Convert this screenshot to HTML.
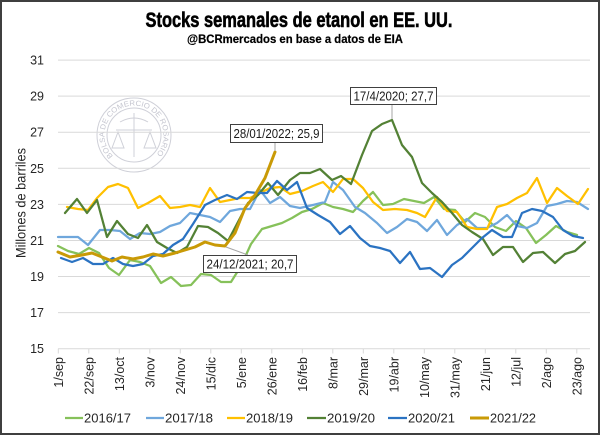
<!DOCTYPE html>
<html><head><meta charset="utf-8"><style>
html,body{margin:0;padding:0;background:#fff;}
svg{display:block;}
text{font-family:"Liberation Sans",Arial,sans-serif;}
</style></head><body>
<svg width="600" height="435" viewBox="0 0 600 435" xmlns="http://www.w3.org/2000/svg">
<rect x="0" y="0" width="600" height="435" fill="#fff"/>
<rect x="1" y="1" width="598" height="433" fill="none" stroke="#3f3f3f" stroke-width="2"/>

<!-- title -->
<text x="299" y="27" text-anchor="middle" font-size="21" font-weight="bold" fill="#000" stroke="#000" stroke-width="0.6" textLength="307" lengthAdjust="spacingAndGlyphs" style="font-family:'Liberation Sans Narrow','Liberation Sans',sans-serif">Stocks semanales de etanol en EE. UU.</text>
<text x="295" y="43" text-anchor="middle" font-size="11.5" font-weight="bold" fill="#000" stroke="#000" stroke-width="0.2" textLength="216" lengthAdjust="spacingAndGlyphs" style="font-family:'Liberation Sans Narrow','Liberation Sans',sans-serif">@BCRmercados  en base a datos de EIA</text>

<!-- watermark -->
<g fill="none" stroke="#cfd0d8" stroke-width="1">
<circle cx="134" cy="135" r="37"/>
<circle cx="134" cy="135" r="27"/>
<line x1="134" y1="113" x2="134" y2="157"/>
<line x1="116" y1="130" x2="152" y2="130"/>
<path d="M112 148 l6 -16 l6 16 z M144 148 l6 -16 l6 16 z"/>
<path d="M120 122 q14 -8 28 0"/>
</g>
<path id="wm" d="M113.1,155.9 A29.5,29.5 0 1 1 154.9,155.9" fill="none"/>
<text font-size="7.5" fill="#c4c5cf"><textPath href="#wm" textLength="136" lengthAdjust="spacingAndGlyphs">BOLSA DE COMERCIO DE ROSARIO</textPath></text>

<!-- gridlines -->
<g stroke="#d9d9d9" stroke-width="1">
<line x1="58" y1="60.1" x2="590" y2="60.1"/>
<line x1="58" y1="96.1" x2="590" y2="96.1"/>
<line x1="58" y1="132.2" x2="590" y2="132.2"/>
<line x1="58" y1="168.3" x2="590" y2="168.3"/>
<line x1="58" y1="204.4" x2="590" y2="204.4"/>
<line x1="58" y1="240.5" x2="590" y2="240.5"/>
<line x1="58" y1="276.5" x2="590" y2="276.5"/>
<line x1="58" y1="312.6" x2="590" y2="312.6"/>
<line x1="58" y1="348.7" x2="590" y2="348.7"/>
</g>
<!-- ticks -->
<g stroke="#d9d9d9" stroke-width="1">
<line x1="58.3" y1="348.7" x2="58.3" y2="353.5"/>
<line x1="88.8" y1="348.7" x2="88.8" y2="353.5"/>
<line x1="119.3" y1="348.7" x2="119.3" y2="353.5"/>
<line x1="149.8" y1="348.7" x2="149.8" y2="353.5"/>
<line x1="180.3" y1="348.7" x2="180.3" y2="353.5"/>
<line x1="210.8" y1="348.7" x2="210.8" y2="353.5"/>
<line x1="241.3" y1="348.7" x2="241.3" y2="353.5"/>
<line x1="271.8" y1="348.7" x2="271.8" y2="353.5"/>
<line x1="302.3" y1="348.7" x2="302.3" y2="353.5"/>
<line x1="332.8" y1="348.7" x2="332.8" y2="353.5"/>
<line x1="363.3" y1="348.7" x2="363.3" y2="353.5"/>
<line x1="393.8" y1="348.7" x2="393.8" y2="353.5"/>
<line x1="424.3" y1="348.7" x2="424.3" y2="353.5"/>
<line x1="454.8" y1="348.7" x2="454.8" y2="353.5"/>
<line x1="485.3" y1="348.7" x2="485.3" y2="353.5"/>
<line x1="515.8" y1="348.7" x2="515.8" y2="353.5"/>
<line x1="546.3" y1="348.7" x2="546.3" y2="353.5"/>
<line x1="576.8" y1="348.7" x2="576.8" y2="353.5"/>
</g>

<!-- y labels -->
<g font-size="12.5" fill="#262626" text-anchor="end">
<text x="44" y="64.6">31</text>
<text x="44" y="100.6">29</text>
<text x="44" y="136.7">27</text>
<text x="44" y="172.8">25</text>
<text x="44" y="208.9">23</text>
<text x="44" y="245">21</text>
<text x="44" y="281">19</text>
<text x="44" y="317.1">17</text>
<text x="44" y="353.2">15</text>
</g>
<text transform="translate(25.5,203) rotate(-90)" text-anchor="middle" font-size="13.5" fill="#262626" textLength="110" lengthAdjust="spacingAndGlyphs">Millones de barriles</text>

<!-- x labels -->
<g font-size="12.5" fill="#262626" text-anchor="end">
<text transform="translate(62.8,357) rotate(-90)">1/sep</text>
<text transform="translate(93.3,357) rotate(-90)">22/sep</text>
<text transform="translate(123.8,357) rotate(-90)">13/oct</text>
<text transform="translate(154.3,357) rotate(-90)">3/nov</text>
<text transform="translate(184.8,357) rotate(-90)">24/nov</text>
<text transform="translate(215.3,357) rotate(-90)">15/dic</text>
<text transform="translate(245.8,357) rotate(-90)">5/ene</text>
<text transform="translate(276.3,357) rotate(-90)">26/ene</text>
<text transform="translate(306.8,357) rotate(-90)">16/feb</text>
<text transform="translate(337.3,357) rotate(-90)">8/mar</text>
<text transform="translate(367.8,357) rotate(-90)">29/mar</text>
<text transform="translate(398.3,357) rotate(-90)">19/abr</text>
<text transform="translate(428.8,357) rotate(-90)">10/may</text>
<text transform="translate(459.3,357) rotate(-90)">31/may</text>
<text transform="translate(489.8,357) rotate(-90)">21/jun</text>
<text transform="translate(520.3,357) rotate(-90)">12/jul</text>
<text transform="translate(550.8,357) rotate(-90)">2/ago</text>
<text transform="translate(581.3,357) rotate(-90)">23/ago</text>
</g>

<!-- series -->
<g fill="none" stroke-width="2.25" stroke-linejoin="round" stroke-linecap="round">
<polyline stroke="#86C15A" points="58,246 68,251 79,254 89,248 99,253 109,268 119,275 130,260 140,262 150,266 161,283 171,277 181,286 191,285 201,274 211,275 221,282 231,282 241,266 251,244 262,229 272,226 282,223 292,218 302,212 312,209 323,203 333,207 343,209 353,212 363,201 373,192 383,205 393,204 404,199 414,201 424,203 434,197 444,209 455,210 465,222 475,213 485,217 495,227 506,231 516,221 526,228 536,243 546,235 556,226 567,232 577,235"/>
<polyline stroke="#6FA7DC" points="58,237 68,237 78,237 88,245 100,230 110,230 120,231 130,239 140,233 150,234 160,232 170,226 180,223 190,213 200,215 210,217 220,222 230,211 240,209 250,209 260,190 270,203 280,197 290,206 300,208 313,205 325,202 333,182 343,190 355,207 365,213 377,223 387,233 397,227 407,219 417,222 427,231 437,220 447,235 457,225 467,219 477,228 487,228 497,223 507,215 517,226 527,228 537,223 547,206 557,204 567,201 577,202 588,209"/>
<polyline stroke="#FFC000" points="67,207 78,209 88,210 97,198 108,187 118,184 128,188 138,208 148,203 160,196 170,208 180,207 190,205 200,207 210,188 220,202 230,200 240,198 250,198 260,193 270,188 280,187 290,194 302,191 313,186 323,182 333,192 343,179 353,179 363,188 373,202 383,210 395,209 407,210 417,213 425,217 437,197 447,211 457,212 467,227 477,229 487,229 497,207 507,204 517,198 527,193 537,178 547,203 557,188 567,196 578,204 588,189"/>
<polyline stroke="#538135" points="65,213 77,199 87,213 97,200 107,237 117,221 128,234 138,238 147,225 157,242 167,248 177,253 187,247 198,226 208,227 218,233 228,241 238,222 248,203 258,195 268,183 278,195 290,180 300,173 310,173 320,169 332,180 341,176 351,184 362,155 372,131 382,124 392,120 402,145 412,157 422,183 432,193 442,202 452,213 462,225 472,232 483,239 493,255 503,247 513,247 523,262 533,253 543,252 555,263 565,254 575,251 585,242"/>
<polyline stroke="#2B73C2" points="61,258 72,262 83,258 93,264 103,264 113,258 123,264 133,266 143,264 153,256 163,254 173,245 183,239 193,224 205,205 215,200 227,195 237,199 247,192 257,193 267,193 277,181 287,190 297,182 307,208 318,215 330,222 340,234 350,226 360,238 370,246 380,248 390,251 400,263 410,252 420,269 430,268 442,277 452,265 462,258 472,248 482,238 492,230 503,237 512,237 522,213 532,209 542,211 553,217 563,230 573,236 583,238"/>
<polyline stroke="#C99A06" stroke-width="3" points="58,252 70,257 82,255 92,253 102,257 112,261 122,257 133,259 143,257 153,254 163,256 175,253 185,250 195,247 205,242 215,245 225,246 235,233 245,208 255,195 265,178 275,152"/>
</g>

<!-- data labels -->
<g stroke="#a6a6a6" stroke-width="1">
<line x1="392" y1="104" x2="392" y2="119"/>
<line x1="275" y1="142" x2="275" y2="151"/>
<line x1="226" y1="247" x2="248" y2="255"/>
</g>
<g fill="#fff" stroke="#404040" stroke-width="1">
<rect x="350.5" y="87.5" width="86" height="17"/>
<rect x="230.5" y="124.5" width="92" height="18"/>
<rect x="203.5" y="255.5" width="93" height="17"/>
</g>
<g font-size="12.5" fill="#1a1a1a" text-anchor="middle">
<text x="393.5" y="100.5" textLength="80" lengthAdjust="spacingAndGlyphs">17/4/2020; 27,7</text>
<text x="276.5" y="138" textLength="86" lengthAdjust="spacingAndGlyphs">28/01/2022; 25,9</text>
<text x="250" y="268.5" textLength="87" lengthAdjust="spacingAndGlyphs">24/12/2021; 20,7</text>
</g>

<!-- legend -->
<g stroke-width="2.25">
<line x1="65" y1="418" x2="83" y2="418" stroke="#86C15A"/>
<line x1="146" y1="418" x2="164" y2="418" stroke="#6FA7DC"/>
<line x1="227" y1="418" x2="245" y2="418" stroke="#FFC000"/>
<line x1="307" y1="418" x2="326" y2="418" stroke="#538135"/>
<line x1="388" y1="418" x2="407" y2="418" stroke="#2B73C2"/>
<line x1="470" y1="418" x2="489" y2="418" stroke="#C99A06" stroke-width="3"/>
</g>
<g font-size="13" fill="#262626">
<text x="84" y="422.5" textLength="47" lengthAdjust="spacingAndGlyphs">2016/17</text>
<text x="165" y="422.5" textLength="48" lengthAdjust="spacingAndGlyphs">2017/18</text>
<text x="246" y="422.5" textLength="47" lengthAdjust="spacingAndGlyphs">2018/19</text>
<text x="327" y="422.5" textLength="48" lengthAdjust="spacingAndGlyphs">2019/20</text>
<text x="408" y="422.5" textLength="47" lengthAdjust="spacingAndGlyphs">2020/21</text>
<text x="490" y="422.5" textLength="46" lengthAdjust="spacingAndGlyphs">2021/22</text>
</g>
</svg>
</body></html>
